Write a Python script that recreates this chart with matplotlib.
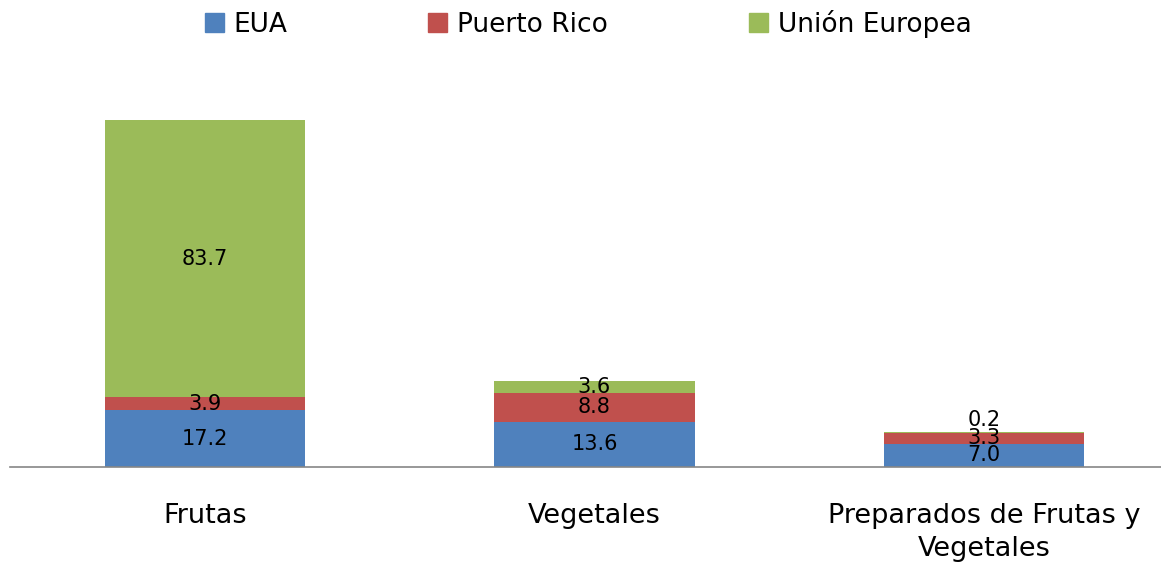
import numpy as np
import matplotlib.pyplot as plt
from matplotlib.patches import Patch

plt.rcParams['font.family'] = ['DejaVu Sans']

categorias = ['Frutas', 'Vegetales', 'Preparados de Frutas y\nVegetales']
eua = [17.2, 13.6, 7.0]
puerto_rico = [3.9, 8.8, 3.3]
union_europea = [83.7, 3.6, 0.2]

series = [('EUA', eua, '#4F81BD'),
          ('Puerto Rico', puerto_rico, '#C0504D'),
          ('Unión Europea', union_europea, '#9BBB59')]

fig = plt.figure(figsize=(11.61, 5.66), dpi=100)
ax = fig.add_axes([10 / 1161, 1 - 467 / 566, 1 - 10 / 1161, 407 / 566])

x = np.arange(len(categorias))
bottom = np.zeros(len(categorias))
for nombre, vals, color in series:
    vals = np.array(vals)
    ax.bar(x, vals, width=0.514, bottom=bottom, color=color)
    for xi, b, v in zip(x, bottom, vals):
        if v < 1:
            # tiny segment: label sits just above the bar
            ax.annotate(f'{v:.1f}', (xi, b + v), xytext=(0, 9), textcoords='offset points',
                        ha='center', va='center', fontsize=15)
        else:
            ax.text(xi, b + v / 2, f'{v:.1f}', ha='center', va='center', fontsize=15)
    bottom += vals

ax.set_xlim(-0.501, 2.455)
ax.set_ylim(0, 123)
ax.set_xticks(x)
ax.set_xticklabels(categorias, fontsize=19.5, linespacing=1.35)
ax.tick_params(axis='x', length=0, pad=26)
ax.set_yticks([])
for s in ['top', 'right', 'left']:
    ax.spines[s].set_visible(False)
ax.spines['bottom'].set_color('#868686')
ax.spines['bottom'].set_linewidth(1.2)

handles = [Patch(color=c, label=n) for n, _, c in series]
fig.legend(handles=handles, loc='center', bbox_to_anchor=(588 / 1161, 1 - 24 / 566),
           ncol=3, frameon=False, fontsize=19, handlelength=0.72, handleheight=0.72,
           handletextpad=0.38, columnspacing=5.33)

fig.savefig('out.png', dpi=100)
